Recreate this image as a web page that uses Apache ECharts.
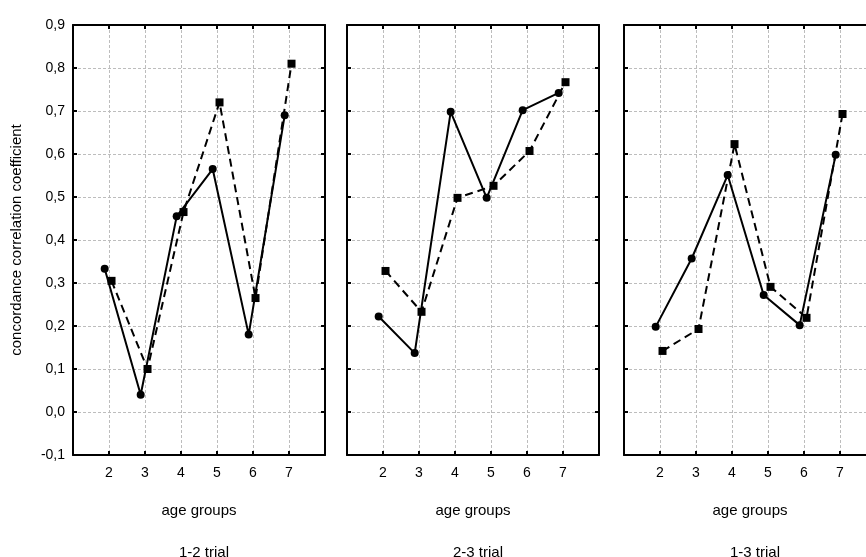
<!DOCTYPE html>
<html>
<head>
<meta charset="utf-8">
<script src="https://cdn.jsdelivr.net/npm/echarts@6/dist/echarts.min.js"></script>
<style>
  html, body { margin: 0; padding: 0; background: #fff; }
  #chart { width: 866px; height: 557px; }
</style>
</head>
<body>
<div id="chart"></div>
<script>
// age groups on the x axis
const ageGroups = [2, 3, 4, 5, 6, 7];
const panelNames = ['1-2 trial', '2-3 trial', '1-3 trial'];
const yTicks = [-0.1, 0, 0.1, 0.2, 0.3, 0.4, 0.5, 0.6, 0.7, 0.8, 0.9];

// solid line, circles
const solid12 = [0.333, 0.04, 0.455, 0.565, 0.18, 0.69];
const solid23 = [0.222, 0.137, 0.698, 0.498, 0.702, 0.742];
const solid13 = [0.198, 0.357, 0.551, 0.272, 0.202, 0.598];
// dashed line, squares
const dashed12 = [0.305, 0.10, 0.465, 0.72, 0.265, 0.81];
const dashed23 = [0.328, 0.233, 0.498, 0.526, 0.607, 0.767];
const dashed13 = [0.142, 0.193, 0.623, 0.291, 0.219, 0.693];

const solidData = [solid12, solid23, solid13];
const dashedData = [dashed12, dashed23, dashed13];

// small horizontal shift of the two series, as in the original plot
const solidShift = -0.12;
const dashedShift = 0.07;

const lefts = [73, 347, 624];
const plotW = 252;
const font = 'Liberation Sans, Arial, sans-serif';

const chart = echarts.init(document.getElementById('chart'));

const grid = [], xAxis = [], yAxis = [], series = [], title = [];

lefts.forEach((left, i) => {
  // the last panel runs past the right edge of the picture
  grid.push({ left: left, top: 25, width: plotW, height: 430, outerBoundsMode: 'none' });

  const gx = i * 2;
  // bottom x axis
  xAxis.push({
    type: 'value', gridIndex: i, min: 1, max: 8, interval: 1,
    name: 'age groups', nameLocation: 'middle', nameGap: 48,
    nameTextStyle: { color: '#000', fontSize: 15, fontFamily: font },
    axisLine: { onZero: false, lineStyle: { color: '#000', width: 2 } },
    axisTick: { inside: true, length: 4, lineStyle: { color: '#000', width: 2 } },
    axisLabel: {
      color: '#000', fontSize: 14, fontFamily: font, margin: 11,
      formatter: v => (ageGroups.indexOf(v) >= 0 ? String(v) : '')
    },
    splitLine: { show: true, lineStyle: { color: '#bdbdbd', type: [3, 2], width: 1 } }
  });
  // top x axis (box + ticks)
  xAxis.push({
    type: 'value', gridIndex: i, min: 1, max: 8, interval: 1, position: 'top',
    axisLine: { onZero: false, lineStyle: { color: '#000', width: 2 } },
    axisTick: { inside: true, length: 4, lineStyle: { color: '#000', width: 2 } },
    axisLabel: { show: false }, splitLine: { show: false }
  });

  // left y axis
  yAxis.push({
    type: 'value', gridIndex: i, min: -0.1, max: 0.9, interval: 0.1,
    name: i === 0 ? 'concordance correlation coefficient' : '',
    nameLocation: 'middle', nameGap: 49,
    nameTextStyle: { color: '#000', fontSize: 15, fontFamily: font },
    axisLine: { onZero: false, lineStyle: { color: '#000', width: 2 } },
    axisTick: { inside: true, length: 4, lineStyle: { color: '#000', width: 2 } },
    axisLabel: {
      show: i === 0, color: '#000', fontSize: 14, fontFamily: font, margin: 8,
      formatter: v => {
        const t = yTicks.find(y => Math.abs(y - v) < 1e-6);
        return t === undefined ? '' : t.toFixed(1).replace('.', ',');
      }
    },
    splitLine: { show: true, lineStyle: { color: '#bdbdbd', type: [3, 2], width: 1 } }
  });
  // right y axis (box + ticks)
  yAxis.push({
    type: 'value', gridIndex: i, min: -0.1, max: 0.9, interval: 0.1, position: 'right',
    axisLine: { onZero: false, lineStyle: { color: '#000', width: 2 } },
    axisTick: { inside: true, length: 4, lineStyle: { color: '#000', width: 2 } },
    axisLabel: { show: false }, splitLine: { show: false }
  });

  series.push({
    type: 'line', xAxisIndex: gx, yAxisIndex: gx,
    data: ageGroups.map((a, k) => [a + solidShift, solidData[i][k]]),
    symbol: 'circle', symbolSize: 8,
    itemStyle: { color: '#000' },
    lineStyle: { color: '#000', width: 2 },
    animation: false, z: 3
  });
  series.push({
    type: 'line', xAxisIndex: gx, yAxisIndex: gx,
    data: ageGroups.map((a, k) => [a + dashedShift, dashedData[i][k]]),
    symbol: 'rect', symbolSize: 8,
    itemStyle: { color: '#000' },
    lineStyle: { color: '#000', width: 2, type: [8, 5] },
    animation: false, z: 3
  });

  title.push({
    text: panelNames[i], left: left + plotW / 2, top: 540, textAlign: 'center',
    textStyle: { color: '#000', fontSize: 15, fontWeight: 'normal', fontFamily: font }
  });
});

chart.setOption({
  backgroundColor: '#fff',
  animation: false,
  title: title,
  grid: grid,
  xAxis: xAxis,
  yAxis: yAxis,
  series: series
});
</script>
</body>
</html>
